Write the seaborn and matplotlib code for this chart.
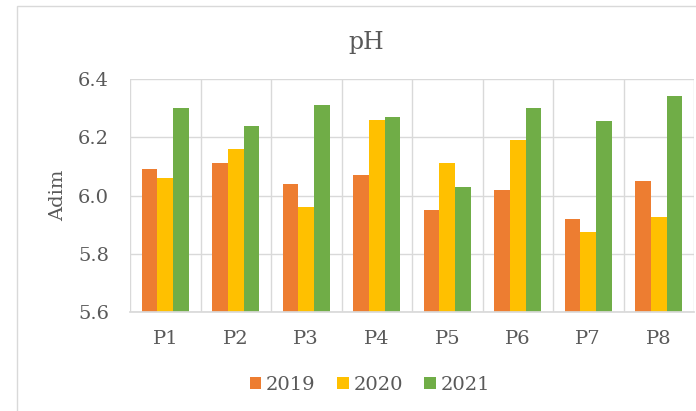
import pandas as pd
import matplotlib.pyplot as plt
import seaborn as sns
from matplotlib.patches import Rectangle

# --- dati ---
punti = ["P1", "P2", "P3", "P4", "P5", "P6", "P7", "P8"]
anni = ["2019", "2020", "2021"]
ph_2019 = [6.09, 6.11, 6.04, 6.07, 5.95, 6.02, 5.92, 6.05]
ph_2020 = [6.06, 6.16, 5.96, 6.26, 6.11, 6.19, 5.875, 5.925]
ph_2021 = [6.30, 6.24, 6.31, 6.27, 6.03, 6.30, 6.255, 6.34]
colori = ["#ED7D31", "#FFC000", "#70AD47"]
yticks = [5.6, 5.8, 6.0, 6.2, 6.4]

df = pd.DataFrame({
    "Punto": punti * 3,
    "Anno": [a for a in anni for _ in punti],
    "pH": ph_2019 + ph_2020 + ph_2021,
})

sns.set_theme(style="white")
plt.rcParams["font.family"] = ["DejaVu Serif"]
text_col = "#595959"
grid_col = "#D9D9D9"

fig = plt.figure(figsize=(6.96, 4.11), dpi=100)
ax = fig.add_axes([130 / 696, 1 - 312 / 411, (694 - 130) / 696, (312 - 79) / 411])

sns.barplot(data=df, x="Punto", y="pH", hue="Anno", palette=colori,
            width=0.66, saturation=1, linewidth=0, ax=ax)

ax.set_ylim(5.6, 6.4)
ax.set_yticks(yticks)
ax.set_yticklabels([f"{t:.1f}" for t in yticks])
ax.set_xlim(-0.5, len(punti) - 0.5)
ax.set_xticks([i - 0.5 for i in range(len(punti) + 1)], minor=True)
ax.grid(axis="y", which="major", color=grid_col, linewidth=1)
ax.grid(axis="x", which="minor", color=grid_col, linewidth=1)
ax.set_axisbelow(True)
for s in ax.spines.values():
    s.set_visible(False)
ax.spines["bottom"].set_visible(True)
ax.spines["bottom"].set_color(grid_col)
ax.tick_params(axis="both", which="both", length=0, labelsize=14, colors=text_col)
ax.tick_params(axis="y", pad=15)
ax.tick_params(axis="x", pad=13)

ax.set_xlabel("")
ax.set_ylabel("Adim", fontsize=14, color=text_col, labelpad=8)

fig.text(366 / 696, 1 - 43 / 411, "pH", ha="center", va="center", fontsize=17, color=text_col)

handles, labels = ax.get_legend_handles_labels()
ax.legend_.remove()
fig.legend(handles, labels, loc="center", bbox_to_anchor=(370 / 696, 1 - 385 / 411),
           ncol=3, frameon=False, fontsize=14, handlelength=0.6, handleheight=0.6,
           handletextpad=0.25, columnspacing=1.1, labelcolor=text_col)

# bordo dell'area del grafico
fig.patches.append(Rectangle((17 / 696, -0.01), 1.0, 1 - 6 / 411 + 0.01,
                             transform=fig.transFigure, fill=False,
                             edgecolor=grid_col, linewidth=1))

plt.savefig("out.png", dpi=100)
plt.close()
